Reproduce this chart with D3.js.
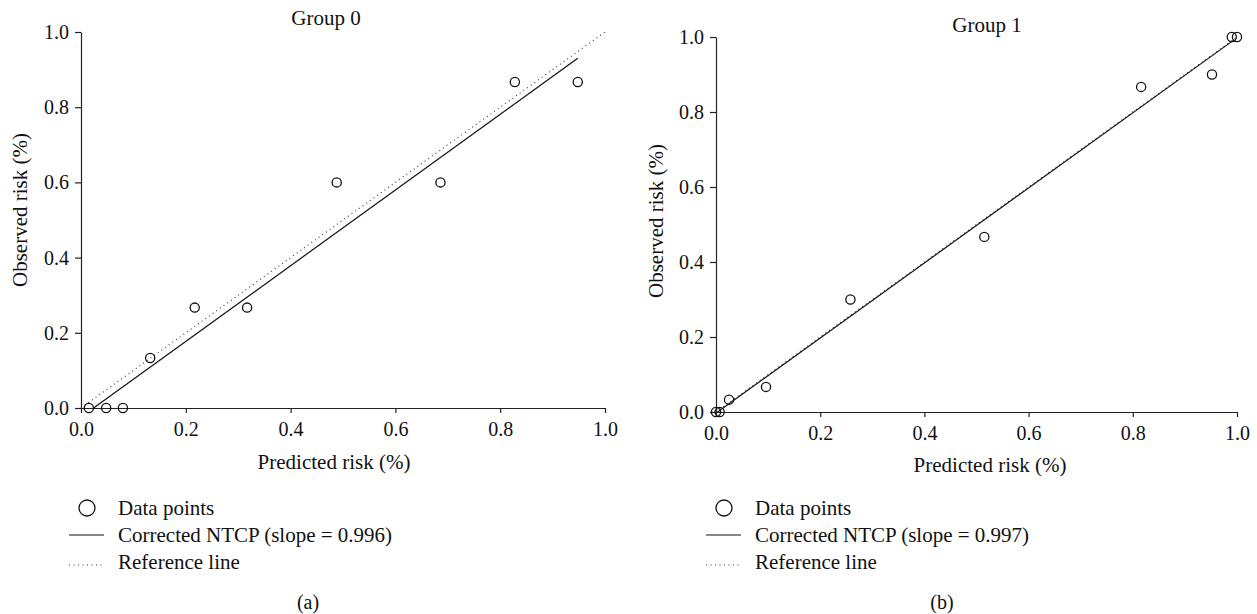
<!DOCTYPE html>
<html>
<head>
<meta charset="utf-8">
<script src="https://cdn.jsdelivr.net/npm/d3@7"></script>
<style>
  body { margin: 0; background: #fff; }
  svg text {
    font-family: "Liberation Serif", "Tinos", "Times New Roman", Times, "DejaVu Serif", "Noto Serif", serif !important;
    fill: #111;
  }
</style>
</head>
<body>
<div id="chart"></div>
<script>
// values

let ticks = [0, 0.2, 0.4, 0.6, 0.8, 1.0];

let group0Pred = [0.015, 0.048, 0.080, 0.132, 0.217, 0.317, 0.488, 0.686, 0.828, 0.948];
let group0Obs  = [0,     0,     0,     0.133, 0.267, 0.267, 0.600, 0.600, 0.867, 0.867];
let group0Fit  = [[0.024, 0], [0.948, 0.930]];

let group1Pred = [0.000, 0.007, 0.025, 0.096, 0.258, 0.515, 0.816, 0.952, 0.990, 1.000];
let group1Obs  = [0,     0,     0.033, 0.067, 0.300, 0.467, 0.867, 0.900, 1.000, 1.000];
let group1Fit  = [[0.003, 0], [0.995, 0.993]];

let refLine = [[0, 0], [1, 1]];

let titles = ["Group 0", "Group 1"];
let slopes = ["0.996", "0.997"];
let panelTags = ["(a)", "(b)"];

let width = 1257;
let height = 614;
let serif = "'Liberation Serif', Tinos, 'Times New Roman', Times, 'DejaVu Serif', serif";

let svg = d3.select("#chart")
  .append("svg")
  .attr("width", width).attr("height", height)
  .style("font-family", serif);

////////////////////////////////////////////////////////////////////////
// one calibration panel

function makePanel(opt) {
  let g = svg.append("g");

  let xScale = d3.scaleLinear().domain([0, 1]).range([opt.left, opt.right]);
  let yScale = d3.scaleLinear().domain([0, 1]).range([opt.bottom, opt.top]);

  let xAxis = d3.axisBottom(xScale)
    .tickValues(ticks).tickFormat(d3.format(".1f"))
    .tickSize(5).tickSizeOuter(0).tickPadding(9);
  let yAxis = d3.axisLeft(yScale)
    .tickValues(ticks).tickFormat(d3.format(".1f"))
    .tickSize(6).tickSizeOuter(0).tickPadding(6);

  let gx = g.append("g")
    .attr("transform", "translate(0," + opt.bottom + ")")
    .call(xAxis);
  let gy = g.append("g")
    .attr("transform", "translate(" + opt.left + ",0)")
    .call(yAxis);

  [gx, gy].forEach(function(a) {
    a.attr("font-family", null);
    a.selectAll("path, line").attr("stroke", "#222").attr("stroke-width", 1.2);
    a.selectAll("text").attr("font-size", 20).style("font-family", serif).attr("fill", "#111");
  });

  let line = d3.line()
    .x(function(d) { return xScale(d[0]); })
    .y(function(d) { return yScale(d[1]); });

  // reference line (dotted)
  g.append("path")
    .datum(refLine)
    .attr("d", line)
    .attr("fill", "none")
    .attr("stroke", "#333")
    .attr("stroke-width", 1.1)
    .attr("stroke-dasharray", "1,3.5");

  // corrected fit
  g.append("path")
    .datum(opt.fit)
    .attr("d", line)
    .attr("fill", "none")
    .attr("stroke", "#111")
    .attr("stroke-width", 1.2);

  let pts = opt.pred.map(function(p, i) { return [p, opt.obs[i]]; });

  g.append("g")
    .selectAll("circle")
    .data(pts)
    .enter()
    .append("circle")
    .attr("cx", function(d) { return xScale(d[0]); })
    .attr("cy", function(d) { return yScale(d[1]); })
    .attr("r", 4.6)
    .attr("fill", "none")
    .attr("stroke", "#111")
    .attr("stroke-width", 1.3);

  // titles
  g.append("text")
    .attr("x", opt.titleX).attr("y", opt.titleY)
    .attr("text-anchor", "middle").attr("font-size", 21)
    .text(opt.title);

  g.append("text")
    .attr("x", opt.xLabelX).attr("y", opt.xLabelY)
    .attr("text-anchor", "middle").attr("font-size", 21)
    .text("Predicted risk (%)");

  g.append("text")
    .attr("transform", "translate(" + opt.yLabelX + "," + opt.yLabelY + ") rotate(-90)")
    .attr("text-anchor", "middle").attr("font-size", 21)
    .text("Observed risk (%)");

  // legend
  let lx = opt.legendX;
  let ly = 508;
  let step = 27;

  g.append("circle")
    .attr("cx", lx + 18).attr("cy", ly)
    .attr("r", 8)
    .attr("fill", "none").attr("stroke", "#111").attr("stroke-width", 1.3);
  g.append("line")
    .attr("x1", lx).attr("x2", lx + 35)
    .attr("y1", ly + step).attr("y2", ly + step)
    .attr("stroke", "#111").attr("stroke-width", 1.2);
  g.append("line")
    .attr("x1", lx).attr("x2", lx + 35)
    .attr("y1", ly + 2 * step + 3).attr("y2", ly + 2 * step + 3)
    .attr("stroke", "#333").attr("stroke-width", 1.1)
    .attr("stroke-dasharray", "1,3.5");

  let labels = ["Data points", "Corrected NTCP (slope = " + opt.slope + ")", "Reference line"];
  g.selectAll(".legtext")
    .data(labels)
    .enter()
    .append("text")
    .attr("x", lx + 49)
    .attr("y", function(d, i) { return ly + i * step; })
    .attr("dy", "0.35em")
    .attr("font-size", 21)
    .text(function(d) { return d; });

  g.append("text")
    .attr("x", opt.tagX).attr("y", 602)
    .attr("dy", "0.35em")
    .attr("text-anchor", "middle").attr("font-size", 20)
    .text(opt.tag);
}

////////////////////////////////////////////////////////////////////////
// Setup panels

makePanel({
  left: 81, right: 605, top: 32, bottom: 408,
  pred: group0Pred, obs: group0Obs, fit: group0Fit,
  title: titles[0], titleX: 326, titleY: 25,
  xLabelX: 334, xLabelY: 469,
  yLabelX: 27, yLabelY: 210,
  legendX: 69, slope: slopes[0],
  tag: panelTags[0], tagX: 308
});

makePanel({
  left: 716, right: 1237, top: 37, bottom: 412,
  pred: group1Pred, obs: group1Obs, fit: group1Fit,
  title: titles[1], titleX: 987, titleY: 32,
  xLabelX: 990, xLabelY: 472,
  yLabelX: 663, yLabelY: 221,
  legendX: 706, slope: slopes[1],
  tag: panelTags[1], tagX: 942
});
</script>
</body>
</html>
